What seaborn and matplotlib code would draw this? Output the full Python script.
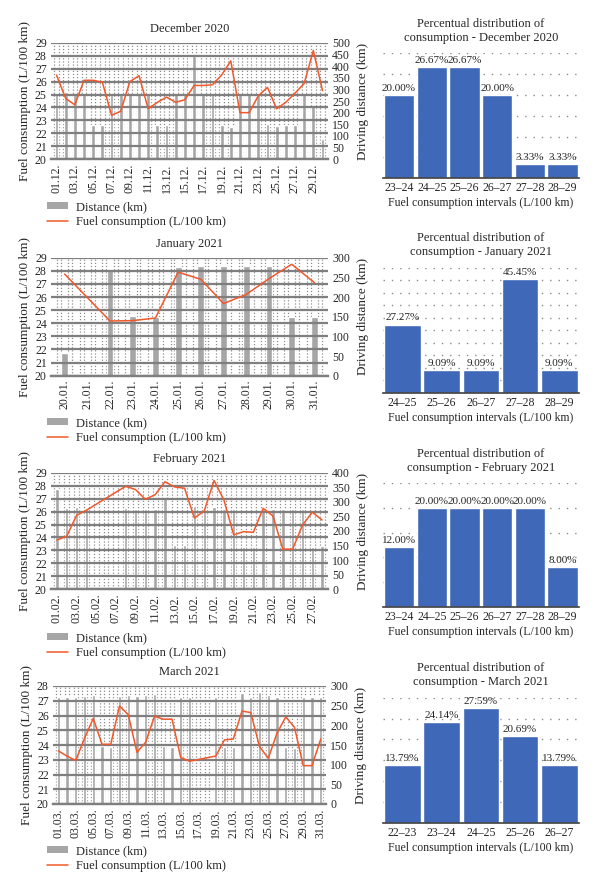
import numpy as np
import pandas as pd
import matplotlib.pyplot as plt
import seaborn as sns
from matplotlib.patches import Patch
from matplotlib.lines import Line2D

nan = np.nan

# December 2020
days_dec = [f"{d:02d}.12." for d in range(1, 31)]
dist_dec = [278, 290, 278, 278, 146, 148, 278, 278, 280, 280, 278, 146, 148, 280, 278,
            445, 278, 278, 146, 140, 278, 278, 278, 150, 142, 148, 148, 278, 228, 87]
cons_dec = [26.5, 24.7, 24.2, 26.1, 26.1, 25.95, 23.4, 23.7, 26.0, 26.45, 23.9, 24.4, 24.8, 24.4, 24.6,
            25.7, 25.7, 25.75, 26.5, 27.6, 23.6, 23.6, 24.9, 25.55, 23.9, 24.4, 25.1, 25.85, 28.4, 25.3]

# January 2021
days_jan = [f"{d:02d}.01." for d in range(20, 32)]
dist_jan = [57, nan, 271, 152, 148, 277, 279, 279, 279, 279, 150, 150]
cons_jan = [27.75, nan, 24.17, 24.2, 24.4, 27.9, 27.35, 25.5, 26.2, 27.4, 28.5, 27.1]

# February 2021
days_feb = [f"{d:02d}.02." for d in range(1, 29)]
dist_feb = [343, 278, 281, 274, nan, nan, nan, 278, 274, 274, 274, 312, 152, 152, 286,
            274, 281, 274, 274, 146, 146, 274, 274, 274, 274, 274, 144, 149]
cons_feb = [23.8, 24.1, 25.7, 26.1, nan, nan, nan, 27.95, 27.7, 26.95, 27.3, 28.3, 27.9, 27.8, 25.5,
            26.05, 28.4, 26.9, 24.2, 24.45, 24.4, 26.25, 25.65, 23.1, 23.1, 24.95, 25.95, 25.35]

# March 2021
days_mar = [f"{d:02d}.03." for d in range(1, 32)]
dist_mar = [271, 271, 271, 274, 276, 147, 144, 274, 276, 274, 276, 279, 147, 144, 271, 271,
            nan, nan, 271, 146, 146, 281, 271, 284, 276, 271, 146, 142, 271, 271, 271]
cons_mar = [23.6, 23.25, 22.95, 24.45, 25.8, 24.05, 24.05, 26.65, 26.05, 23.5, 24.2, 25.95, 25.75, 25.75,
            23.15, 22.9, nan, nan, 23.25, 24.35, 24.4, 26.3, 26.2, 23.9, 23.1, 24.8, 25.9, 25.2,
            22.6, 22.6, 24.4]

# percentual distributions
bins_dec = ["23–24", "24–25", "25–26", "26–27", "27–28", "28–29"]
pct_dec = [20.00, 26.67, 26.67, 20.00, 3.33, 3.33]
bins_jan = ["24–25", "25–26", "26–27", "27–28", "28–29"]
pct_jan = [27.27, 9.09, 9.09, 45.45, 9.09]
bins_feb = ["23–24", "24–25", "25–26", "26–27", "27–28", "28–29"]
pct_feb = [12.00, 20.00, 20.00, 20.00, 20.00, 8.00]
bins_mar = ["22–23", "23–24", "24–25", "25–26", "26–27"]
pct_mar = [13.79, 24.14, 27.59, 20.69, 13.79]

sns.set_style("white")
plt.rcParams['font.family'] = ['Liberation Serif', 'DejaVu Serif']
plt.rcParams['font.size'] = 8

GRAY = "#a6a6a6"
ORANGE = "#f0582a"
BLUE = "#4068b8"
GRID = "#7f7f7f"
W, H = 600, 894

fig = plt.figure(figsize=(W / 100, H / 100), dpi=100)


def box(x0, y0, x1, y1):
    return [x0 / W, 1 - y1 / H, (x1 - x0) / W, (y1 - y0) / H]


def daily(rect, title, days, dist, cons, cmax, dmax, dstep, bw, step, frac, legend_top):
    ax = fig.add_axes(box(*rect))
    n = len(days)
    df = pd.DataFrame({"day": days, "dist": dist, "cons": cons, "pos": np.arange(n)})
    sns.barplot(data=df, x="day", y="dist", order=days, color=GRAY, saturation=1,
                width=bw, ax=ax, zorder=2)
    ax.set_xlabel("")
    minor = [i + f for i in range(-1, n) for f in frac if -0.5 < i + f < n - 0.5]
    ax.set_xticks(minor, minor=True)
    ax.grid(which="minor", axis="x", color="#8f8f8f", lw=0.9, ls=(0, (1, 1.5)))
    ax.set_axisbelow(True)
    ax.set_xticks(range(0, n, step))
    ax.set_xticklabels(days[::step], rotation=90)

    # line axis (twinx moves the bar axis ticks to the left, so fix sides afterwards)
    ax2 = ax.twinx()
    line = df.dropna(subset=["cons"])
    sns.lineplot(data=line, x="pos", y="cons", ax=ax2, color=ORANGE, lw=1.1)
    ax2.set_ylim(20, cmax)
    ax2.set_yticks(range(20, cmax + 1))
    ax2.yaxis.tick_left()
    ax2.yaxis.set_label_position("left")
    ax2.set_ylabel("Fuel consumption (L/100 km)", fontsize=9.5, labelpad=3)
    ax2.grid(axis="y", color=GRID, lw=1.6)

    ax.set_ylim(0, dmax)
    ax.set_yticks(np.arange(0, dmax + 1, dstep))
    ax.yaxis.tick_right()
    ax.yaxis.set_label_position("right")
    ax.set_ylabel("Driving distance (km)", fontsize=9.5, labelpad=5)
    ax.set_xlim(-0.6, n - 0.4)
    for a in (ax, ax2):
        a.tick_params(axis="both", which="both", length=0, pad=3, labelsize=8.5)
        for s in ["top", "left", "right"]:
            a.spines[s].set_visible(False)
        a.spines["bottom"].set_color(GRID)
        a.spines["bottom"].set_linewidth(1.6)
    ax.set_title(title, fontsize=9, pad=8)

    handles = [Patch(facecolor=GRAY, edgecolor="none", label="Distance (km)"),
               Line2D([], [], color=ORANGE, lw=1.1, label="Fuel consumption (L/100 km)")]
    fig.legend(handles=handles, loc="upper left", bbox_to_anchor=(47 / W, 1 - legend_top / H),
               frameon=False, fontsize=9, handlelength=1.7, handleheight=0.5,
               labelspacing=0.25, borderpad=0, borderaxespad=0, handletextpad=0.6)


def distribution(rect, title, bins, pct, ymax):
    ax = fig.add_axes(box(*rect))
    sns.barplot(x=bins, y=pct, color=BLUE, saturation=1, width=0.93, ax=ax, zorder=2)
    ax.set_xlim(-0.5, len(bins) - 0.5)
    ax.set_ylim(0, ymax)
    ax.set_yticks(np.arange(5, ymax + 1, 5))
    ax.set_yticklabels([])
    ax.grid(axis="y", color="#8a8a8a", lw=1.0, ls=(0, (1, 5)))
    ax.set_axisbelow(True)
    ax.bar_label(ax.containers[0], labels=[f"{v:.2f}%" for v in pct], padding=1.5, fontsize=8)
    for s in ["top", "left", "right"]:
        ax.spines[s].set_visible(False)
    ax.spines["bottom"].set_color("#404040")
    ax.spines["bottom"].set_linewidth(1.2)
    ax.tick_params(axis="both", length=0, pad=3, labelsize=8.5)
    ax.set_xlabel("Fuel consumption intervals (L/100 km)", fontsize=8.5, labelpad=2)
    ax.set_title(title, fontsize=9, pad=9, linespacing=1.2)


daily((51, 42.7, 328, 159.3), "December 2020", days_dec, dist_dec, cons_dec, 29, 500, 50,
      0.42, 2, [0.25, 0.75], 201)
daily((51, 257.7, 328, 375.7), "January 2021", days_jan, dist_jan, cons_jan, 29, 300, 50,
      0.3, 1, [1 / 6, 2 / 6, 4 / 6, 5 / 6], 417)
daily((51, 472.7, 328, 589.3), "February 2021", days_feb, dist_feb, cons_feb, 29, 400, 50,
      0.35, 2, [0.25, 0.75], 632)
daily((53, 686, 326, 804), "March 2021", days_mar, dist_mar, cons_mar, 28, 300, 50,
      0.38, 2, [0.25, 0.75], 845)

distribution((382.7, 53.3, 579, 178.3),
             "Percentual distribution of\nconsumption - December 2020", bins_dec, pct_dec, 30)
distribution((382.7, 267.7, 579, 392.7),
             "Percentual distribution of\nconsumption - January 2021", bins_jan, pct_jan, 50)
distribution((382.7, 483.3, 579, 606.7),
             "Percentual distribution of\nconsumption - February 2021", bins_feb, pct_feb, 25)
distribution((382.7, 697.7, 579, 822.7),
             "Percentual distribution of\nconsumption - March 2021", bins_mar, pct_mar, 30)

fig.savefig("out.png", dpi=100, facecolor="white")
